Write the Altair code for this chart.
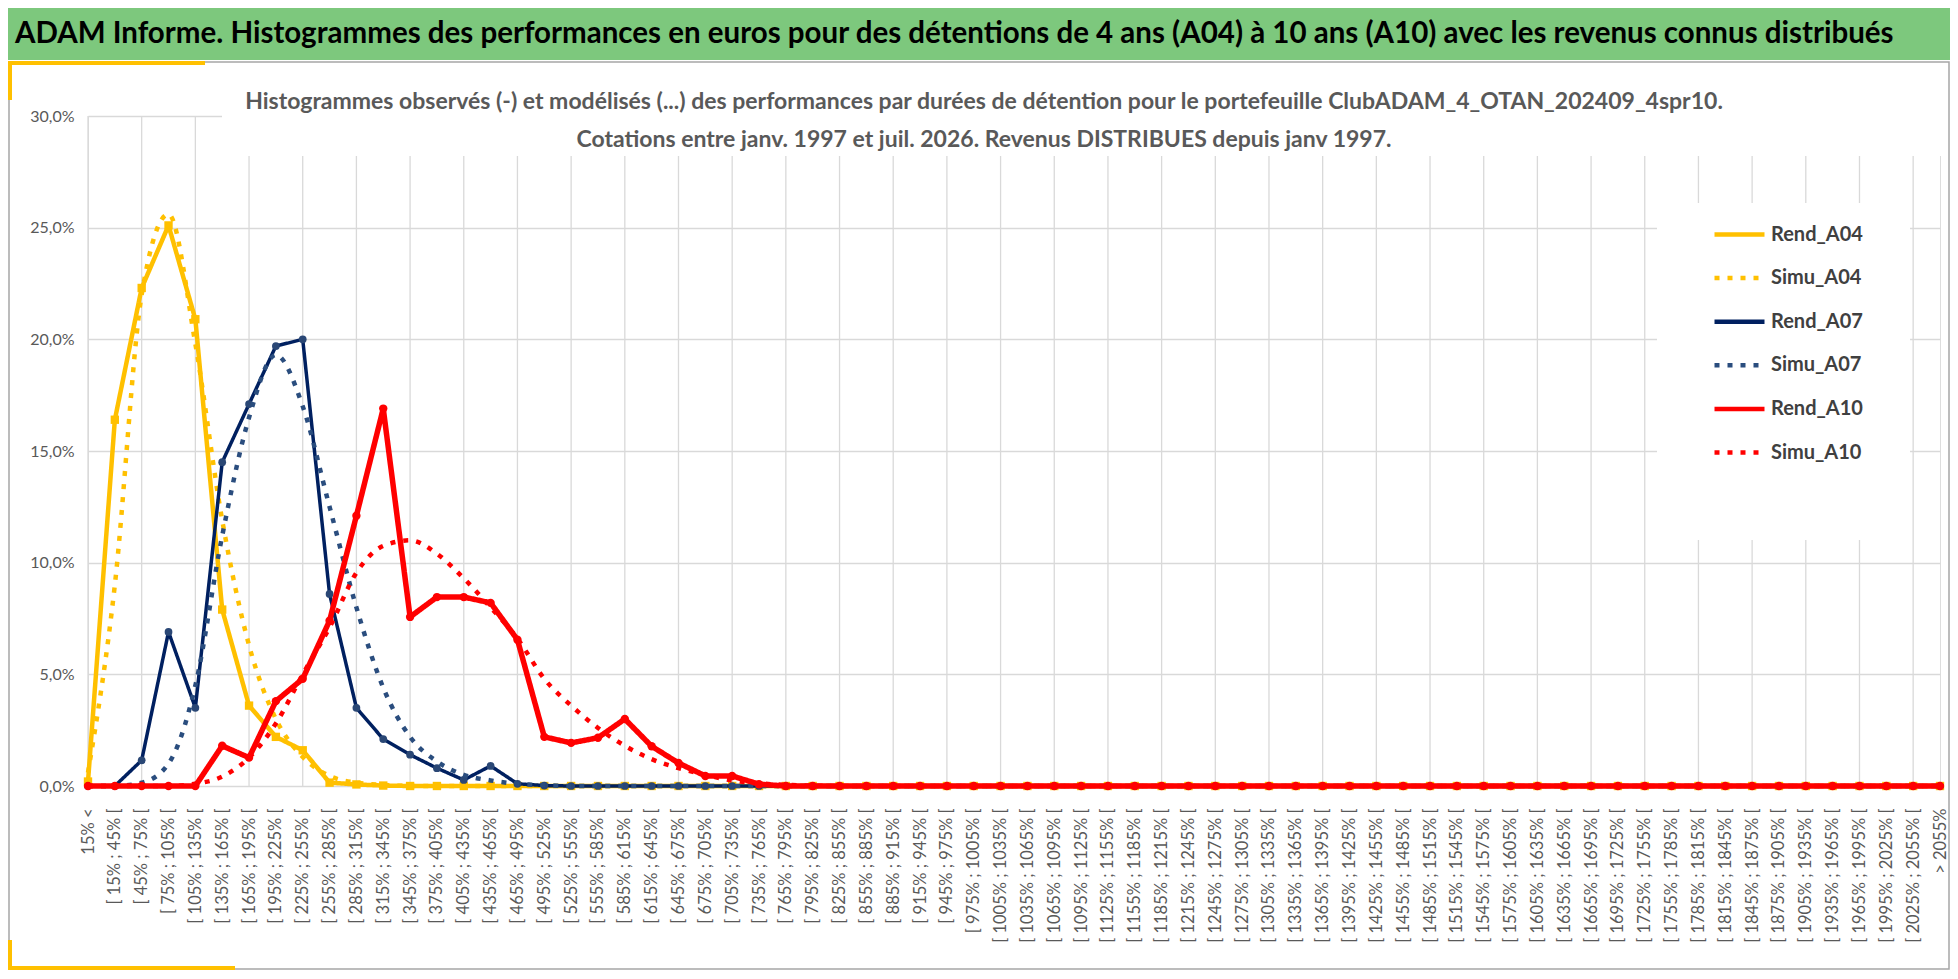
import altair as alt
import pandas as pd

TITLE = "ADAM Informe. Histogrammes des performances en euros pour des détentions de 4 ans (A04) à 10 ans (A10) avec les revenus connus distribués"
SUB1 = "Histogrammes observés (-) et modélisés (...) des performances par durées de détention pour le portefeuille ClubADAM_4_OTAN_202409_4spr10."
SUB2 = "Cotations entre janv. 1997 et juil. 2026. Revenus DISTRIBUES depuis janv 1997."

CATEGORIES = ["15% <"] + [f"[ {a}% ; {a + 30}% [" for a in range(15, 2055, 30)] + ["> 2055%"]
EVEN_CATEGORIES = CATEGORIES[::2]

SERIES = ["Rend_A04", "Simu_A04", "Rend_A07", "Simu_A07", "Rend_A10", "Simu_A10"]

REND_A04 = [
    0.2, 16.4, 22.3, 25.1, 20.9, 7.9, 3.6, 2.2, 1.6, 0.15,
    0.07, 0.02, 0.0, 0.0, 0.0, 0.0, 0.0, 0.0, 0.0, 0.0,
    0.0, 0.0, 0.0, 0.0, 0.0, 0.0, 0.0, 0.0, 0.0, 0.0,
    0.0, 0.0, 0.0, 0.0, 0.0, 0.0, 0.0, 0.0, 0.0, 0.0,
    0.0, 0.0, 0.0, 0.0, 0.0, 0.0, 0.0, 0.0, 0.0, 0.0,
    0.0, 0.0, 0.0, 0.0, 0.0, 0.0, 0.0, 0.0, 0.0, 0.0,
    0.0, 0.0, 0.0, 0.0, 0.0, 0.0, 0.0, 0.0, 0.0, 0.0,
]
SIMU_A04 = [
    0.6, 9.0, 22.0, 25.6, 19.8, 11.9, 6.3, 3.0, 1.3, 0.45,
    0.15, 0.05, 0.0, 0.0, 0.0, 0.0, 0.0, 0.0, 0.0, 0.0,
    0.0, 0.0, 0.0, 0.0, 0.0, 0.0, 0.0, 0.0, 0.0, 0.0,
    0.0, 0.0, 0.0, 0.0, 0.0, 0.0, 0.0, 0.0, 0.0, 0.0,
    0.0, 0.0, 0.0, 0.0, 0.0, 0.0, 0.0, 0.0, 0.0, 0.0,
    0.0, 0.0, 0.0, 0.0, 0.0, 0.0, 0.0, 0.0, 0.0, 0.0,
    0.0, 0.0, 0.0, 0.0, 0.0, 0.0, 0.0, 0.0, 0.0, 0.0,
]
REND_A07 = [
    0.0, 0.0, 1.15, 6.9, 3.5, 14.5, 17.1, 19.7, 20.0, 8.6,
    3.5, 2.1, 1.4, 0.8, 0.27, 0.9, 0.1, 0.02, 0.0, 0.0,
    0.0, 0.0, 0.0, 0.0, 0.0, 0.0, 0.0, 0.0, 0.0, 0.0,
    0.0, 0.0, 0.0, 0.0, 0.0, 0.0, 0.0, 0.0, 0.0, 0.0,
    0.0, 0.0, 0.0, 0.0, 0.0, 0.0, 0.0, 0.0, 0.0, 0.0,
    0.0, 0.0, 0.0, 0.0, 0.0, 0.0, 0.0, 0.0, 0.0, 0.0,
    0.0, 0.0, 0.0, 0.0, 0.0, 0.0, 0.0, 0.0, 0.0, 0.0,
]
SIMU_A07 = [
    0.0, 0.0, 0.15, 1.0, 4.5, 11.2, 16.5, 19.3, 17.0, 12.5,
    8.0, 4.4, 2.2, 1.1, 0.5, 0.25, 0.1, 0.04, 0.0, 0.0,
    0.0, 0.0, 0.0, 0.0, 0.0, 0.0, 0.0, 0.0, 0.0, 0.0,
    0.0, 0.0, 0.0, 0.0, 0.0, 0.0, 0.0, 0.0, 0.0, 0.0,
    0.0, 0.0, 0.0, 0.0, 0.0, 0.0, 0.0, 0.0, 0.0, 0.0,
    0.0, 0.0, 0.0, 0.0, 0.0, 0.0, 0.0, 0.0, 0.0, 0.0,
    0.0, 0.0, 0.0, 0.0, 0.0, 0.0, 0.0, 0.0, 0.0, 0.0,
]
REND_A10 = [
    0.0, 0.0, 0.0, 0.0, 0.0, 1.8, 1.27, 3.8, 4.8, 7.4,
    12.1, 16.9, 7.57, 8.46, 8.46, 8.2, 6.55, 2.2, 1.93, 2.16,
    3.0, 1.78, 1.03, 0.45, 0.45, 0.08, 0.0, 0.0, 0.0, 0.0,
    0.0, 0.0, 0.0, 0.0, 0.0, 0.0, 0.0, 0.0, 0.0, 0.0,
    0.0, 0.0, 0.0, 0.0, 0.0, 0.0, 0.0, 0.0, 0.0, 0.0,
    0.0, 0.0, 0.0, 0.0, 0.0, 0.0, 0.0, 0.0, 0.0, 0.0,
    0.0, 0.0, 0.0, 0.0, 0.0, 0.0, 0.0, 0.0, 0.0, 0.0,
]
SIMU_A10 = [
    0.0, 0.0, 0.0, 0.0, 0.1, 0.42, 1.27, 2.8, 5.0, 7.1,
    9.55, 10.75, 11.0, 10.4, 9.3, 8.0, 6.6, 4.8, 3.6, 2.6,
    1.8, 1.2, 0.8, 0.5, 0.25, 0.12, 0.05, 0.02, 0.0, 0.0,
    0.0, 0.0, 0.0, 0.0, 0.0, 0.0, 0.0, 0.0, 0.0, 0.0,
    0.0, 0.0, 0.0, 0.0, 0.0, 0.0, 0.0, 0.0, 0.0, 0.0,
    0.0, 0.0, 0.0, 0.0, 0.0, 0.0, 0.0, 0.0, 0.0, 0.0,
    0.0, 0.0, 0.0, 0.0, 0.0, 0.0, 0.0, 0.0, 0.0, 0.0,
]

VALUES = {
    "Rend_A04": REND_A04, "Simu_A04": SIMU_A04,
    "Rend_A07": REND_A07, "Simu_A07": SIMU_A07,
    "Rend_A10": REND_A10, "Simu_A10": SIMU_A10,
}
COLORS = ["#FFC000", "#FFC000", "#002060", "#2A4D7E", "#FF0000", "#FF0000"]
DASHES = [[1, 0], [5, 8], [1, 0], [5, 8], [1, 0], [5, 8]]
WIDTHS = {"Rend_A04": 4.5, "Simu_A04": 4.5, "Rend_A07": 3.5,
          "Simu_A07": 4.5, "Rend_A10": 5.5, "Simu_A10": 4.5}
MARKERS = {"Rend_A04": ("square", 70, "#FFC000"),
           "Rend_A07": ("circle", 60, "#2A4775"),
           "Rend_A10": ("circle", 70, "#FF0000")}

W, H = 1852, 670
FONT = "Lato"


def frame(name):
    return pd.DataFrame({
        "cat": CATEGORIES,
        "value": [v / 100 for v in VALUES[name]],
        "series": name,
    })


x_enc = alt.X(
    "cat:N",
    scale=alt.Scale(type="point", padding=0, domain=CATEGORIES),
    axis=alt.Axis(title=None, labelAngle=-90, ticks=False, domain=False, grid=False,
                  labelPadding=22, labelFontSize=16.5, labelColor="#595959",
                  labelOverlap=False, labelLimit=0, labelFont=FONT),
)
y_enc = alt.Y(
    "value:Q",
    scale=alt.Scale(domain=[0, 0.3], nice=False),
    axis=alt.Axis(title=None, values=[0, 0.05, 0.10, 0.15, 0.20, 0.25, 0.30],
                  labelExpr="replace(format(datum.value, '.1%'), '.', ',')",
                  grid=True, gridColor="#D9D9D9", gridWidth=1.3, domain=False,
                  ticks=False, labelPadding=14, labelFontSize=16,
                  labelColor="#595959", labelFont=FONT),
)

legend = alt.Legend(
    title=None, orient="none", legendX=1616, legendY=83,
    symbolType="stroke", symbolSize=2500, symbolStrokeWidth=4.5,
    labelFont=FONT, labelFontSize=20, labelFontWeight="bold",
    labelColor="#404040", labelOffset=4, rowPadding=5.6, padding=8,
    labelLimit=0,
)
color_enc = alt.Color("series:N", scale=alt.Scale(domain=SERIES, range=COLORS), legend=legend)
dash_enc = alt.StrokeDash("series:N", scale=alt.Scale(domain=SERIES, range=DASHES), legend=legend)

one = alt.Data(values=[{"k": 1}])

# vertical gridlines every two categories
vgrid = alt.Chart(pd.DataFrame({"cat": EVEN_CATEGORIES})).mark_rule(
    color="#D9D9D9", strokeWidth=1.3
).encode(x=x_enc, y=alt.value(0), y2=alt.value(H))

layers = [vgrid]

# white boxes behind subtitle and legend (hide the grid, as in the original)
layers.append(alt.Chart(one).mark_rect(color="white").encode(
    x=alt.value(134), x2=alt.value(1862), y=alt.value(-2), y2=alt.value(40)))
layers.append(alt.Chart(one).mark_rect(color="white").encode(
    x=alt.value(1569), x2=alt.value(1822), y=alt.value(87), y2=alt.value(424)))

for name in SERIES:
    df = frame(name)
    smooth = name.startswith("Simu")
    line = alt.Chart(df).mark_line(
        strokeWidth=WIDTHS[name],
        interpolate="monotone" if smooth else "linear",
        strokeJoin="round",
    ).encode(x=x_enc, y=y_enc, color=color_enc, strokeDash=dash_enc)
    layers.append(line)
    if name in MARKERS:
        shape, size, col = MARKERS[name]
        pts = alt.Chart(df).mark_point(
            shape=shape, size=size, filled=True, opacity=1, color=col
        ).encode(x=x_enc, y=y_enc)
        layers.append(pts)

# banner
layers.append(alt.Chart(one).mark_rect(color="#7DC87D").encode(
    x=alt.value(-80), x2=alt.value(1862), y=alt.value(-108), y2=alt.value(-56)))
layers.append(alt.Chart(one).mark_text(
    align="left", baseline="middle", font=FONT, fontSize=29.5, fontWeight="bold", color="#000000"
).encode(x=alt.value(-73), y=alt.value(-82), text=alt.value(TITLE)))

# frame and gold accents
layers.append(alt.Chart(one).mark_rect(fill="transparent", stroke="#A6A6A6", strokeWidth=1.5).encode(
    x=alt.value(-79), x2=alt.value(1861), y=alt.value(-54), y2=alt.value(853)))
gold = "#FFC000"
layers.append(alt.Chart(one).mark_rule(color=gold, strokeWidth=4).encode(
    x=alt.value(-80), x2=alt.value(117), y=alt.value(-53)))
layers.append(alt.Chart(one).mark_rule(color=gold, strokeWidth=4).encode(
    x=alt.value(-78), y=alt.value(-53), y2=alt.value(-16)))
layers.append(alt.Chart(one).mark_rule(color=gold, strokeWidth=4).encode(
    x=alt.value(-78), y=alt.value(824), y2=alt.value(853)))
layers.append(alt.Chart(one).mark_rule(color=gold, strokeWidth=4).encode(
    x=alt.value(-80), x2=alt.value(147), y=alt.value(852)))

# subtitle
layers.append(alt.Chart(one).mark_text(
    align="center", baseline="middle", font=FONT, fontSize=23, fontWeight="bold", color="#595959"
).encode(x=alt.value(896), y=alt.value(-14), text=alt.value(SUB1)))
layers.append(alt.Chart(one).mark_text(
    align="center", baseline="middle", font=FONT, fontSize=23, fontWeight="bold", color="#595959"
).encode(x=alt.value(896), y=alt.value(24), text=alt.value(SUB2)))

chart = alt.layer(*layers).properties(
    width=W, height=H,
    autosize=alt.AutoSizeParams(type="none"),
    padding={"left": 80, "top": 108, "right": 10, "bottom": 185},
    background="white",
).configure_view(stroke=None).configure(font=FONT)

chart.save("out.html", embed_options={"renderer": "svg", "actions": False})
